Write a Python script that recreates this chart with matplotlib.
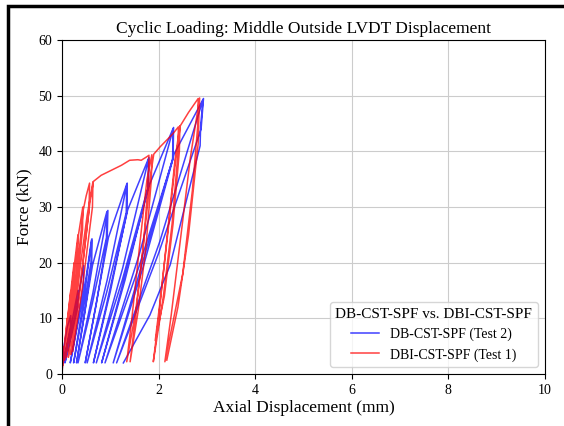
import matplotlib
matplotlib.use("Agg")
import matplotlib.pyplot as plt
from matplotlib.patches import Rectangle

# ------------------------------- Data ------------------------------#

# DB-CST-SPF (Test 2): displacement (mm) and force (kN), one point per turn of the path
db_disp = [
    0.00, 0.04, 0.11, 0.18, 0.175, 0.10, 0.02,
    0.175, 0.33, 0.325, 0.19, 0.06,
    0.255, 0.45, 0.445, 0.31, 0.17,
    0.46, 0.61, 0.60, 0.42, 0.24,
    0.43, 0.62, 0.615, 0.46, 0.30,
    0.63, 0.93, 0.92, 0.625, 0.33,
    0.64, 0.95, 0.935, 0.71, 0.48,
    0.96, 1.34, 1.33, 0.925, 0.52,
    0.935, 1.35, 1.345, 1.00, 0.65,
    1.36, 1.79, 1.78, 1.245, 0.71,
    1.255, 1.80, 1.79, 1.305, 0.82,
    1.81, 2.30, 2.29, 1.59, 0.89,
    1.60, 2.31, 2.30, 1.68, 1.06,
    2.32, 2.93, 2.88, 2.00, 1.13,
    2.025, 2.92, 2.87, 2.86, 2.24, 1.82, 1.27,
]
db_force = [
    0.5, 5.0, 8.5, 10.5, 8.5, 5.1, 2.0,
    8.0, 15.0, 12.0, 6.7, 2.0,
    10.0, 19.5, 16.0, 8.6, 2.0,
    15.0, 24.1, 20.0, 10.5, 2.0,
    12.3, 24.3, 20.0, 10.5, 2.0,
    19.5, 29.2, 24.5, 12.6, 2.0,
    14.6, 29.4, 24.5, 12.6, 2.0,
    24.5, 34.1, 29.0, 14.7, 2.0,
    16.9, 34.3, 29.2, 14.8, 2.0,
    29.5, 38.7, 33.5, 16.8, 2.0,
    19.0, 38.9, 33.7, 16.9, 2.0,
    34.0, 44.1, 38.5, 19.2, 2.0,
    21.5, 44.3, 38.7, 19.2, 2.0,
    39.5, 49.5, 44.0, 21.7, 2.0,
    23.8, 49.3, 44.5, 41.0, 19.6, 10.6, 2.0,
]

# DBI-CST-SPF (Test 1)
dbi_disp = [
    0.00, 0.02, 0.05, 0.045, 0.01,
    0.03, 0.06, 0.11, 0.105, 0.06, 0.02,
    0.05, 0.08, 0.12, 0.18, 0.175, 0.10, 0.03,
    0.07, 0.12, 0.19, 0.25, 0.245, 0.15, 0.05,
    0.10, 0.17, 0.26, 0.33, 0.325, 0.21, 0.08,
    0.14, 0.23, 0.34, 0.43, 0.425, 0.28, 0.13,
    0.20, 0.30, 0.44, 0.50, 0.57, 0.56, 0.37, 0.18,
    0.26, 0.38, 0.52, 0.64, 0.63, 0.42, 0.22,
    0.30, 0.43, 0.58, 0.65, 0.81, 1.02, 1.23, 1.40, 1.57, 1.64, 1.75, 1.80,
    1.79, 1.68, 1.52, 1.34,
    1.44, 1.60, 1.76, 1.86, 1.85, 1.74, 1.58, 1.41,
    1.52, 1.68, 1.84, 1.90, 2.03, 2.30, 2.41, 2.40, 2.28, 2.10, 1.89,
    2.00, 2.18, 2.34, 2.44, 2.43, 2.30, 2.12, 1.93,
    2.03, 2.20, 2.36, 2.45, 2.62, 2.82, 2.81, 2.70, 2.50, 2.13,
    2.26, 2.45, 2.66, 2.85, 2.83, 2.82, 2.62, 2.40, 2.17,
]
dbi_force = [
    0.0, 2.5, 5.0, 3.5, 1.5,
    3.5, 6.0, 10.0, 7.5, 4.0, 2.0,
    4.5, 7.5, 10.5, 15.0, 12.0, 6.0, 2.5,
    5.5, 10.0, 15.5, 20.0, 16.5, 8.5, 2.5,
    6.5, 12.5, 20.0, 25.0, 21.0, 10.5, 3.0,
    8.0, 15.5, 25.0, 30.0, 26.0, 13.0, 3.0,
    9.0, 17.5, 29.5, 32.0, 34.3, 29.5, 15.0, 3.5,
    10.0, 19.5, 28.5, 34.5, 30.0, 15.5, 4.0,
    10.5, 20.0, 31.0, 34.6, 35.7, 36.6, 37.5, 38.4, 38.5, 38.4, 39.0, 39.3,
    35.0, 22.5, 11.0, 2.2,
    9.5, 22.5, 35.0, 39.4, 35.0, 23.0, 11.5, 2.2,
    10.0, 23.0, 36.0, 39.5, 40.8, 43.2, 44.4, 39.5, 27.0, 14.0, 2.2,
    10.0, 25.0, 38.5, 44.6, 40.0, 27.0, 14.0, 6.0,
    13.0, 26.0, 39.0, 44.6, 47.0, 49.5, 44.5, 33.0, 18.0, 2.2,
    10.5, 24.0, 39.0, 49.6, 45.0, 41.4, 25.0, 12.0, 2.5,
]

labels = ["DB-CST-SPF (Test 2)", "DBI-CST-SPF (Test 1)"]
legend_title = "DB-CST-SPF vs. DBI-CST-SPF"

# ---------------------------------- Plotting --------------------------------#

plt.rcParams["font.family"] = ["Liberation Serif", "DejaVu Serif"]

fig = plt.figure(figsize=(5.64, 4.26), dpi=100)
ax = fig.add_axes([0.110, 0.122, 0.856, 0.784])

ax.plot(db_disp, db_force, color="blue", lw=1.1, alpha=0.75, label=labels[0])
ax.plot(dbi_disp, dbi_force, color="red", lw=1.1, alpha=0.75, label=labels[1])

ax.set_xlim(0, 10)
ax.set_ylim(0, 60)
ax.set_xticks(range(0, 11, 2))
ax.set_yticks(range(0, 61, 10))
ax.tick_params(labelsize=10, length=3.5, width=0.8)
ax.grid(True, color="#cccccc", lw=0.8)
ax.set_axisbelow(True)

ax.set_xlabel("Axial Displacement (mm)", fontsize=12.5, labelpad=2)
ax.set_ylabel("Force (kN)", fontsize=12.5, labelpad=4)
ax.set_title("Cyclic Loading: Middle Outside LVDT Displacement", fontsize=12.5, pad=5)

ax.legend(loc="lower right", title=legend_title, fontsize=10, title_fontsize=11)

# heavy frame around the picture (right/bottom edges fall outside the image)
fig.add_artist(Rectangle((8 / 564, -0.1), 1.2, 1.1 - 6 / 426, transform=fig.transFigure,
                         fill=False, lw=2.5, ec="black", clip_on=False))

fig.savefig("out.png", dpi=100)
